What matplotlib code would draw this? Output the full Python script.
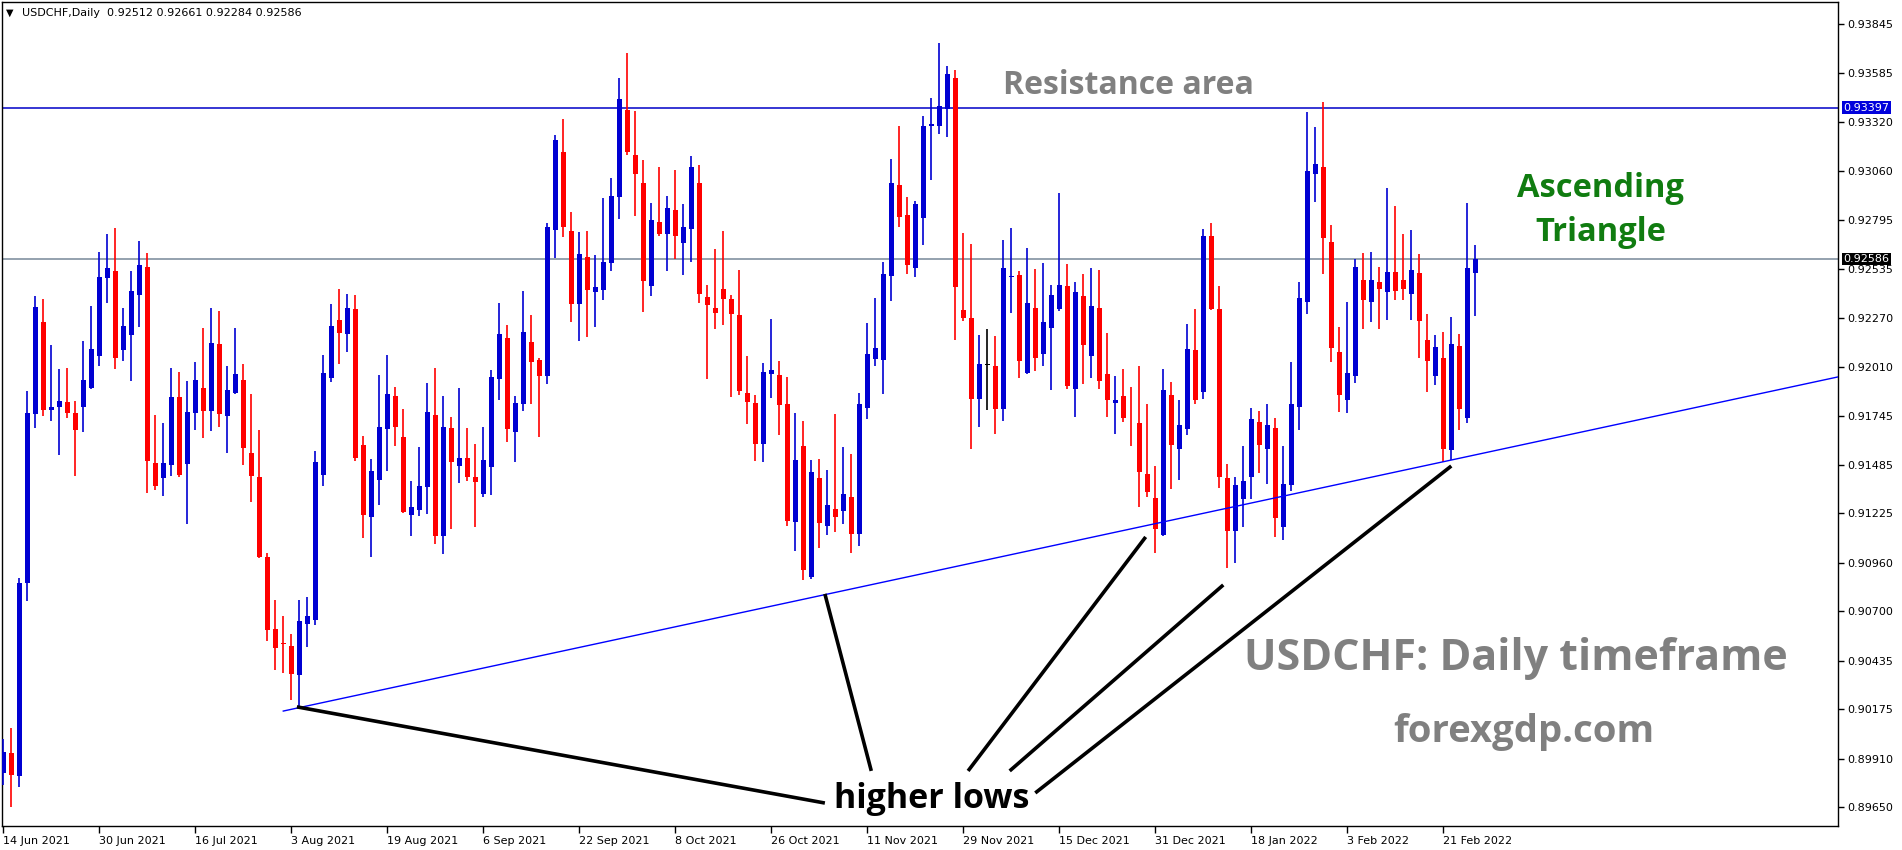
import numpy as np
import matplotlib.pyplot as plt

plt.rcParams['font.family'] = ['DejaVu Sans']

# date labels every 12 bars
tick_dates = ['14 Jun 2021', '30 Jun 2021', '16 Jul 2021', '3 Aug 2021', '19 Aug 2021', '6 Sep 2021',
              '22 Sep 2021', '8 Oct 2021', '26 Oct 2021', '11 Nov 2021', '29 Nov 2021', '15 Dec 2021',
              '31 Dec 2021', '18 Jan 2022', '3 Feb 2022', '21 Feb 2022']
price_ticks = [0.93845, 0.93585, 0.93320, 0.93060, 0.92795, 0.92535, 0.92270, 0.92010, 0.91745,
               0.91485, 0.91225, 0.90960, 0.90700, 0.90435, 0.90175, 0.89910, 0.89650]

opens = [
    0.89834, 0.89941, 0.89818, 0.90852, 0.91758, 0.92249, 0.91778, 0.91792, 0.91822, 0.91762,
    0.91792, 0.91897, 0.92069, 0.92487, 0.92524, 0.92099, 0.92178, 0.92396, 0.92544, 0.91495,
    0.91412, 0.91485, 0.91847, 0.91491, 0.91764, 0.91897, 0.91774, 0.92133, 0.91748, 0.91871,
    0.91939, 0.91549, 0.91420, 0.90992, 0.90606, 0.90531, 0.90515, 0.90357, 0.90630, 0.90654,
    0.91432, 0.91951, 0.92260, 0.92187, 0.92319, 0.91591, 0.91207, 0.91405, 0.91678, 0.91853,
    0.91634, 0.91216, 0.91245, 0.91368, 0.91753, 0.91105, 0.91682, 0.91480, 0.91521, 0.91419,
    0.91330, 0.91475, 0.91946, 0.92164, 0.91662, 0.91812, 0.92142, 0.92046, 0.91962, 0.92742,
    0.93159, 0.92736, 0.92345, 0.92597, 0.92410, 0.92420, 0.92565, 0.92918, 0.93384, 0.93143,
    0.92993, 0.92442, 0.92784, 0.92722, 0.92849, 0.92674, 0.92749, 0.92993, 0.92383, 0.92324,
    0.92426, 0.92372, 0.92286, 0.91870, 0.91814, 0.91598, 0.91972, 0.91965, 0.91810, 0.91180,
    0.91586, 0.90886, 0.91414, 0.91159, 0.91248, 0.91239, 0.91313, 0.91116, 0.91789, 0.92049,
    0.92047, 0.92498, 0.92985, 0.92824, 0.92537, 0.92805, 0.93299, 0.93299, 0.93391, 0.93557,
    0.92315, 0.92270, 0.91838, 0.92018, 0.92012, 0.91783, 0.92488, 0.92502, 0.91976, 0.92324,
    0.92078, 0.92219, 0.92318, 0.92443, 0.91890, 0.92389, 0.92068, 0.92324, 0.91969, 0.91816,
    0.91851, 0.91732, 0.91707, 0.91437, 0.91308, 0.91107, 0.91857, 0.91571, 0.91678, 0.92099,
    0.91876, 0.92710, 0.92318, 0.91416, 0.91130, 0.91300, 0.91420, 0.91714, 0.91571, 0.91682,
    0.91150, 0.91376, 0.91796, 0.92358, 0.93044, 0.93079, 0.92678, 0.92089, 0.91833, 0.91962,
    0.92474, 0.92358, 0.92463, 0.92412, 0.92517, 0.92474, 0.92401, 0.92512, 0.92153, 0.91962,
    0.92058, 0.91566, 0.92121, 0.91737, 0.92512]
highs = [
    0.90016, 0.90075, 0.90877, 0.91881, 0.92388, 0.92372, 0.92125, 0.91996, 0.92004, 0.91826,
    0.92145, 0.92333, 0.92624, 0.92720, 0.92753, 0.92323, 0.92524, 0.92683, 0.92619, 0.91752,
    0.91709, 0.92004, 0.91984, 0.91931, 0.92036, 0.92218, 0.92325, 0.92309, 0.92014, 0.92218,
    0.92026, 0.91861, 0.91671, 0.91014, 0.90758, 0.90675, 0.90576, 0.90758, 0.90778, 0.91558,
    0.92073, 0.92346, 0.92426, 0.92399, 0.92394, 0.91639, 0.91516, 0.91966, 0.92073, 0.91901,
    0.91784, 0.91400, 0.91580, 0.91923, 0.92005, 0.91853, 0.91741, 0.91896, 0.91682, 0.91596,
    0.91687, 0.91992, 0.92351, 0.92233, 0.91853, 0.92415, 0.92287, 0.92057, 0.92779, 0.93250,
    0.93336, 0.92838, 0.92731, 0.92736, 0.92608, 0.92913, 0.93020, 0.93556, 0.93689, 0.93379,
    0.93116, 0.92886, 0.93079, 0.92924, 0.93063, 0.92881, 0.93138, 0.93090, 0.92447, 0.92640,
    0.92736, 0.92394, 0.92529, 0.92069, 0.91860, 0.92029, 0.92265, 0.92040, 0.91954, 0.91762,
    0.91719, 0.91511, 0.91516, 0.91457, 0.91757, 0.91580, 0.91543, 0.91869, 0.92246, 0.92379,
    0.92570, 0.93120, 0.93301, 0.92918, 0.92899, 0.93350, 0.93450, 0.93741, 0.93620, 0.93598,
    0.92727, 0.92668, 0.92180, 0.92211, 0.92174, 0.92690, 0.92754, 0.92524, 0.92647, 0.92533,
    0.92567, 0.92449, 0.92942, 0.92561, 0.92461, 0.92508, 0.92539, 0.92526, 0.92189, 0.91959,
    0.91996, 0.91902, 0.92012, 0.91810, 0.91476, 0.91996, 0.91926, 0.91832, 0.92240, 0.92319,
    0.92747, 0.92779, 0.92442, 0.91487, 0.91419, 0.91585, 0.91789, 0.91773, 0.91810, 0.91735,
    0.91585, 0.92035, 0.92465, 0.93374, 0.93295, 0.93427, 0.92769, 0.92223, 0.92358, 0.92587,
    0.92619, 0.92624, 0.92544, 0.92967, 0.92870, 0.92721, 0.92744, 0.92613, 0.92294, 0.92181,
    0.92198, 0.92276, 0.92185, 0.92887, 0.92661]
lows = [
    0.89768, 0.89650, 0.89759, 0.90753, 0.91679, 0.91748, 0.91719, 0.91535, 0.91733, 0.91422,
    0.91659, 0.91893, 0.92016, 0.92352, 0.91996, 0.92040, 0.91933, 0.92220, 0.91333, 0.91352,
    0.91317, 0.91422, 0.91418, 0.91170, 0.91673, 0.91626, 0.91667, 0.91689, 0.91545, 0.91861,
    0.91481, 0.91287, 0.90985, 0.90539, 0.90384, 0.90372, 0.90224, 0.90184, 0.90507, 0.90626,
    0.91370, 0.91930, 0.92026, 0.92091, 0.91507, 0.91095, 0.90993, 0.91270, 0.91453, 0.91587,
    0.91225, 0.91105, 0.91212, 0.91223, 0.91062, 0.91009, 0.91143, 0.91389, 0.91400, 0.91153,
    0.91314, 0.91325, 0.91834, 0.91609, 0.91502, 0.91775, 0.91812, 0.91635, 0.91917, 0.92590,
    0.92704, 0.92249, 0.92147, 0.92169, 0.92222, 0.92367, 0.92522, 0.92800, 0.93143, 0.92816,
    0.92302, 0.92388, 0.92711, 0.92524, 0.92588, 0.92500, 0.92572, 0.92352, 0.91945, 0.92213,
    0.92235, 0.91849, 0.91860, 0.91705, 0.91507, 0.91502, 0.91844, 0.91646, 0.91154, 0.91025,
    0.90868, 0.90875, 0.91041, 0.91111, 0.91127, 0.91170, 0.91014, 0.91052, 0.91730, 0.92014,
    0.91863, 0.92363, 0.92756, 0.92504, 0.92492, 0.92664, 0.93008, 0.93256, 0.93241, 0.92152,
    0.92256, 0.91568, 0.91687, 0.91777, 0.91648, 0.91719, 0.92297, 0.91951, 0.91970, 0.91988,
    0.92012, 0.91883, 0.92309, 0.91890, 0.91738, 0.91918, 0.91947, 0.91888, 0.91740, 0.91652,
    0.91713, 0.91584, 0.91261, 0.91312, 0.91011, 0.91101, 0.91355, 0.91405, 0.91642, 0.91812,
    0.91839, 0.92315, 0.91360, 0.90930, 0.90960, 0.91150, 0.91300, 0.91442, 0.91384, 0.91100,
    0.91080, 0.91344, 0.91673, 0.92294, 0.92894, 0.92508, 0.92037, 0.91769, 0.91764, 0.91924,
    0.92214, 0.92251, 0.92214, 0.92262, 0.92369, 0.92369, 0.92262, 0.92058, 0.91876, 0.91914,
    0.91501, 0.91512, 0.91673, 0.91710, 0.92284]
closes = [
    0.89947, 0.89822, 0.90852, 0.91762, 0.92329, 0.91778, 0.91794, 0.91826, 0.91764, 0.91673,
    0.91939, 0.92105, 0.92491, 0.92538, 0.92059, 0.92228, 0.92416, 0.92554, 0.91505, 0.91370,
    0.91495, 0.91847, 0.91432, 0.91768, 0.91939, 0.91774, 0.92137, 0.91756, 0.91885, 0.91970,
    0.91572, 0.91422, 0.90988, 0.90602, 0.90501, 0.90523, 0.90366, 0.90650, 0.90675, 0.91501,
    0.91976, 0.92228, 0.92192, 0.92324, 0.91523, 0.91216, 0.91452, 0.91687, 0.91864, 0.91689,
    0.91234, 0.91259, 0.91371, 0.91768, 0.91105, 0.91687, 0.91502, 0.91521, 0.91421, 0.91394,
    0.91510, 0.91955, 0.92185, 0.91678, 0.91816, 0.92196, 0.92037, 0.91962, 0.92758, 0.93224,
    0.92758, 0.92345, 0.92613, 0.92420, 0.92436, 0.92570, 0.92924, 0.93443, 0.93159, 0.93041,
    0.92470, 0.92795, 0.92722, 0.92859, 0.92711, 0.92758, 0.93079, 0.92401, 0.92342, 0.92299,
    0.92374, 0.92294, 0.91881, 0.91823, 0.91598, 0.91981, 0.91992, 0.91807, 0.91186, 0.91511,
    0.90922, 0.91446, 0.91175, 0.91270, 0.91207, 0.91329, 0.91116, 0.91810, 0.92076, 0.92109,
    0.92508, 0.92996, 0.92811, 0.92557, 0.92883, 0.93301, 0.93311, 0.93405, 0.93577, 0.92434,
    0.92272, 0.91838, 0.92023, 0.92018, 0.91783, 0.92539, 0.92498, 0.92041, 0.92352, 0.92057,
    0.92248, 0.92395, 0.92447, 0.91906, 0.92410, 0.92127, 0.92336, 0.91933, 0.91832, 0.91830,
    0.91736, 0.91728, 0.91445, 0.91341, 0.91140, 0.91883, 0.91592, 0.91698, 0.92106, 0.91833,
    0.92710, 0.92321, 0.91421, 0.91130, 0.91376, 0.91398, 0.91728, 0.91589, 0.91698, 0.91200,
    0.91382, 0.91810, 0.92380, 0.93060, 0.93097, 0.92701, 0.92112, 0.91860, 0.91976, 0.92544,
    0.92369, 0.92474, 0.92428, 0.92517, 0.92417, 0.92428, 0.92528, 0.92256, 0.92042, 0.92115,
    0.91571, 0.92131, 0.91785, 0.92538, 0.92586]

resistance = 0.93397
last_price = 0.92586
# ascending trendline: anchored on two lows (bar, price)
trend_p1 = (37, 0.90184)
trend_p2 = (181, 0.91510)
trend_start = 35

BLUE = '#0000d2'
RED = '#ff0000'
GRAY = '#808080'

o = np.array(opens)
h = np.array(highs)
l = np.array(lows)
c = np.array(closes)
idx = np.arange(len(o))

fig = plt.figure(figsize=(19.02, 8.5), dpi=100)
ax = fig.add_axes([2 / 1902, 24 / 850, 1836 / 1902, 824 / 850])
ax.set_xlim(-0.16, 229.34)
ax.set_ylim(0.89550, 0.93963)

colors = np.where(c > o, BLUE, np.where(c < o, RED, 'black'))
ax.vlines(idx, l, h, colors=colors, linewidth=1.2, zorder=3)
body_low = np.minimum(o, c)
body_h = np.maximum(np.abs(c - o), 0.00004)
ax.bar(idx, body_h, bottom=body_low, width=0.64, color=colors, linewidth=0, zorder=4)

# horizontal lines
ax.axhline(resistance, color='#0000c8', linewidth=1.1, zorder=2)
ax.axhline(last_price, color='#778899', linewidth=1.1, zorder=2)

# trendline (ray to the right)
slope = (trend_p2[1] - trend_p1[1]) / (trend_p2[0] - trend_p1[0])
tx = np.array([trend_start, 230])
ty = trend_p1[1] + slope * (tx - trend_p1[0])
ax.plot(tx, ty, color='#0000ff', linewidth=1.0, zorder=5)

# axes styling
for sp in ax.spines.values():
    sp.set_color('black')
    sp.set_linewidth(1.0)
ax.yaxis.tick_right()
ax.set_yticks(price_ticks)
ax.set_yticklabels([f'{p:.5f}' for p in price_ticks])
ax.set_xticks(np.arange(len(tick_dates)) * 12)
ax.set_xticklabels(tick_dates)
for lab in ax.get_xticklabels():
    lab.set_ha('left')
ax.tick_params(axis='y', direction='out', length=4, width=1, labelsize=8, pad=3)
ax.tick_params(axis='x', direction='out', length=5, width=1, labelsize=8, pad=2)

# price boxes on the axis
ax.annotate(f'{resistance:.5f}', xy=(1.0, resistance), xycoords=('axes fraction', 'data'),
            xytext=(4, 0), textcoords='offset points', va='center', ha='left',
            fontsize=8, color='white',
            bbox=dict(boxstyle='square,pad=0.12', fc='#0000dc', ec='none'), zorder=10,
            annotation_clip=False)
ax.annotate(f'{last_price:.5f}', xy=(1.0, last_price), xycoords=('axes fraction', 'data'),
            xytext=(4, 0), textcoords='offset points', va='center', ha='left',
            fontsize=8, color='white',
            bbox=dict(boxstyle='square,pad=0.12', fc='black', ec='none'), zorder=10,
            annotation_clip=False)

# header
fig.text(6 / 1902, 1 - 13 / 850, '▼', fontsize=7, va='center', ha='left')
fig.text(22 / 1902, 1 - 13 / 850, 'USDCHF,Daily  0.92512 0.92661 0.92284 0.92586',
         fontsize=8, va='center', ha='left')

# chart text objects
ax.text(140.7, 0.93515, 'Resistance area', color=GRAY, fontsize=23, fontweight='bold',
        family='Open Sans', ha='center', va='center', zorder=6)
ax.text(199.7, 0.92845, 'Ascending\nTriangle', color='#107c10', fontsize=23.5, fontweight='bold',
        family='Open Sans', ha='center', va='center', linespacing=1.45, zorder=6)
ax.text(189.1, 0.90445, 'USDCHF: Daily timeframe', color=GRAY, fontsize=31, fontweight='bold',
        family='Open Sans', ha='center', va='center', zorder=6)
ax.text(190.1, 0.90055, 'forexgdp.com', color=GRAY, fontsize=27.5, fontweight='bold',
        family='Open Sans', ha='center', va='center', zorder=6)
ax.text(116.1, 0.89695, 'higher lows', color='black', fontsize=24.5, fontweight='bold',
        family='Open Sans', ha='center', va='center', zorder=6)

# pointer lines to the higher lows
pointers = [((36.7, 0.90188), (102.7, 0.89673)),
            ((102.7, 0.90793), (108.5, 0.89845)),
            ((142.8, 0.91098), (120.6, 0.89845)),
            ((152.5, 0.90841), (125.8, 0.89845)),
            ((181.0, 0.91478), (129.0, 0.89727))]
for (x0, y0), (x1, y1) in pointers:
    ax.plot([x0, x1], [y0, y1], color='black', linewidth=2.6, solid_capstyle='butt', zorder=6)

fig.savefig('out.png', dpi=100, facecolor='white')
